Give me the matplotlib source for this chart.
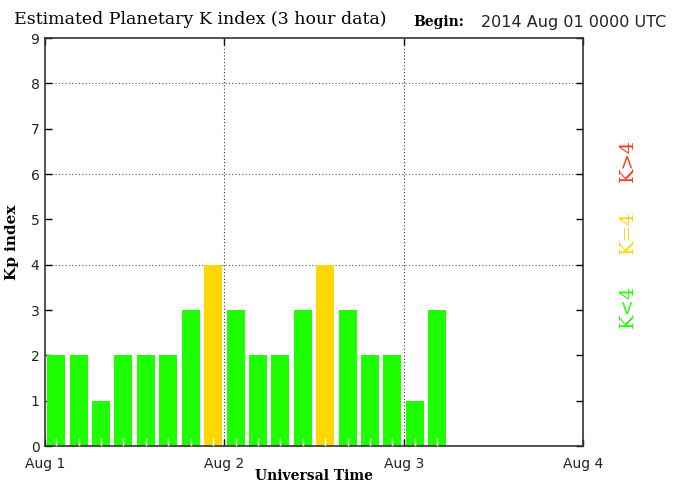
from matplotlib import pyplot as plt
import numpy as np

# Kp values, 3-hour intervals starting 2014 Aug 01 00 UT
kp = [2, 2, 1, 2, 2, 2, 3, 4, 3, 2, 2, 3, 4, 3, 2, 2, 1, 3]
day_labels = ['Aug 1', 'Aug 2', 'Aug 3', 'Aug 4']
day_hours = [0, 24, 48, 72]

green = '#1EFF00'
yellow = '#FFD700'
red = '#FF3A1A'

hours = np.arange(len(kp)) * 3 + 1.5
colors = [green if k < 4 else (yellow if k == 4 else red) for k in kp]

fig = plt.figure(figsize=(6.85, 4.84), dpi=100)
ax = fig.add_axes([45/685, 1-446/484, (583-45)/685, (446-38)/484])

ax.bar(hours, kp, width=2.4, color=colors, zorder=2)
ax.set_xlim(0, 72)
ax.set_ylim(0, 9)

# dotted grid
for y in [4, 6, 8]:
    ax.axhline(y, color='#555555', lw=0.8, ls=(0, (1, 2)), zorder=1)
for x in [24, 48]:
    ax.axvline(x, color='#333333', lw=0.8, ls=(0, (1, 2)), zorder=3)

# light 3-hour tick marks inside the bars
ax.vlines(hours, 0, 0.17, color='#EEFFEE', lw=1, zorder=4)

ax.set_xticks(day_hours)
ax.set_xticklabels(day_labels)
ax.set_yticks(range(10))
ax.tick_params(axis='both', direction='in', length=5, width=1, labelsize=10, colors='black')
ax.tick_params(axis='y', right=True, pad=4)
ax.tick_params(axis='x', top=True, pad=8)
for lab in ax.get_xticklabels() + ax.get_yticklabels():
    lab.set_color('#222222')
for s in ax.spines.values():
    s.set_linewidth(1.2)
    s.set_color('#333333')

ax.set_ylabel('Kp index', family='DejaVu Serif', fontweight='bold', fontsize=11, labelpad=8)

fig.text(314/685, 1-476/484, 'Universal Time', family='DejaVu Serif', fontweight='bold',
         fontsize=10, va='center', ha='center')
fig.text(14/685, 1-20/484, 'Estimated Planetary K index (3 hour data)', family='DejaVu Serif',
         fontsize=12.5, va='center', ha='left')
fig.text(413/685, 1-22/484, 'Begin:', family='DejaVu Serif', fontweight='bold',
         fontsize=10, va='center', ha='left')
fig.text(481/685, 1-22/484, '2014 Aug 01 0000 UTC', family='DejaVu Sans',
         fontsize=11.5, va='center', ha='left', color='#222222')

fig.text(628/685, 1-306/484, 'K<4', color=green, rotation=90, family='DejaVu Serif',
         fontsize=14, va='center', ha='center')
fig.text(628/685, 1-232/484, 'K=4', color=yellow, rotation=90, family='DejaVu Serif',
         fontsize=14, va='center', ha='center')
fig.text(628/685, 1-160/484, 'K>4', color=red, rotation=90, family='DejaVu Serif',
         fontsize=14, va='center', ha='center')

plt.savefig('out.png', dpi=100)
